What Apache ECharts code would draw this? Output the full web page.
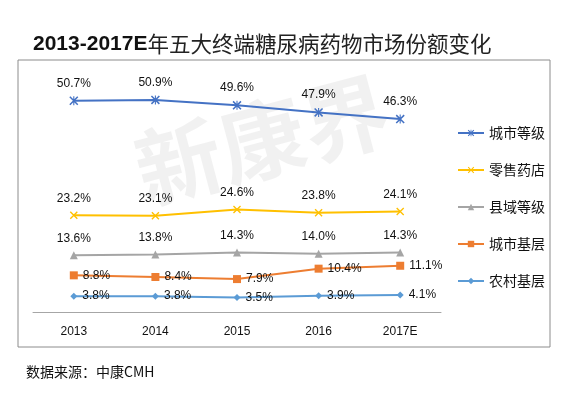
<!DOCTYPE html>
<html>
<head>
<meta charset="utf-8">
<script src="https://cdn.jsdelivr.net/npm/echarts@6/dist/echarts.min.js"></script>
<style>
  html, body { margin: 0; padding: 0; background: #fff; }
  #chart { width: 570px; height: 399px; }
</style>
</head>
<body>
<div id="chart"></div>
<script>
const years = ['2013', '2014', '2015', '2016', '2017E']
const seriesNames = ['城市等级', '零售药店', '县域等级', '城市基层', '农村基层']
const cityTier = [50.7, 50.9, 49.6, 47.9, 46.3]
const retail = [23.2, 23.1, 24.6, 23.8, 24.1]
const county = [13.6, 13.8, 14.3, 14.0, 14.3]
const cityBase = [8.8, 8.4, 7.9, 10.4, 11.1]
const rural = [3.8, 3.8, 3.5, 3.9, 4.1]

const colors = ['#4472C4', '#FFC000', '#A5A5A5', '#ED7D31', '#5B9BD5']
const xMark = 'path://M0,1.2 L1.2,0 L10,8.8 L8.8,10 Z M8.8,0 L10,1.2 L1.2,10 L0,8.8 Z'
const starMark = 'path://M0,1.2 L1.2,0 L10,8.8 L8.8,10 Z M8.8,0 L10,1.2 L1.2,10 L0,8.8 Z M4.4,0 L5.6,0 L5.6,10 L4.4,10 Z'

const labelFont = { fontFamily: 'Liberation Sans', fontSize: 12, color: '#111' }

function makeSeries(idx, data, symbol, size, pos) {
  return {
    name: seriesNames[idx],
    type: 'line',
    data: data,
    symbol: symbol,
    symbolSize: size,
    lineStyle: { color: colors[idx], width: 2 },
    itemStyle: { color: colors[idx] },
    label: Object.assign({
      show: true,
      position: pos,
      distance: pos === 'top' ? 7 : 5,
      formatter: p => p.value.toFixed(1) + '%'
    }, labelFont),
    animation: false
  }
}

const chart = echarts.init(document.getElementById('chart'))
chart.setOption({
  backgroundColor: '#fff',
  title: {
    text: '{a|2013-2017E}{b|年五大终端糖尿病药物市场份额变化}',
    left: 28,
    top: 28,
    textStyle: {
      fontWeight: 'normal',
      rich: {
        a: { fontFamily: 'Liberation Sans', fontWeight: 'bold', fontSize: 21, color: '#111' },
        b: { fontFamily: 'Noto Sans CJK SC', fontWeight: 'normal', fontSize: 21.5, color: '#222' }
      }
    }
  },
  graphic: [
    {
      type: 'rect',
      shape: { x: 18, y: 60, width: 532, height: 287 },
      style: { fill: 'none', stroke: '#8c8c8c', lineWidth: 1 },
      z: -1
    },
    {
      type: 'text',
      x: 262, y: 140,
      rotation: 0.26,
      style: {
        text: '新康界',
        font: 'bold 86px "Noto Sans CJK SC"',
        fill: 'rgba(0,0,0,0.055)',
        align: 'center',
        verticalAlign: 'middle'
      },
      z: -1
    },
    {
      type: 'text',
      left: 26,
      top: 365,
      style: {
        text: '数据来源：中康CMH',
        font: '14px "Noto Sans CJK SC"',
        fill: '#111'
      }
    }
  ],
  legend: {
    orient: 'vertical',
    left: 452,
    top: 121,
    itemWidth: 26,
    itemHeight: 8,
    itemGap: 23,
    textStyle: { fontFamily: 'Noto Sans CJK SC', fontSize: 14, color: '#111' },
    data: seriesNames
  },
  grid: { left: 33, right: 129, top: 62, bottom: 87 },
  xAxis: {
    type: 'category',
    data: years,
    boundaryGap: true,
    axisLine: { lineStyle: { color: '#a6a6a6', width: 1 } },
    axisTick: { show: false },
    axisLabel: { fontFamily: 'Liberation Sans', fontSize: 12, color: '#111', margin: 14 }
  },
  yAxis: {
    type: 'value',
    min: 0,
    max: 60,
    show: false,
    splitLine: { show: false }
  },
  series: [
    makeSeries(0, cityTier, starMark, 9, 'top'),
    makeSeries(1, retail, xMark, 8, 'top'),
    makeSeries(2, county, 'triangle', 8, 'top'),
    makeSeries(3, cityBase, 'rect', 8, 'right'),
    makeSeries(4, rural, 'diamond', 7, 'right')
  ]
})
</script>
</body>
</html>
